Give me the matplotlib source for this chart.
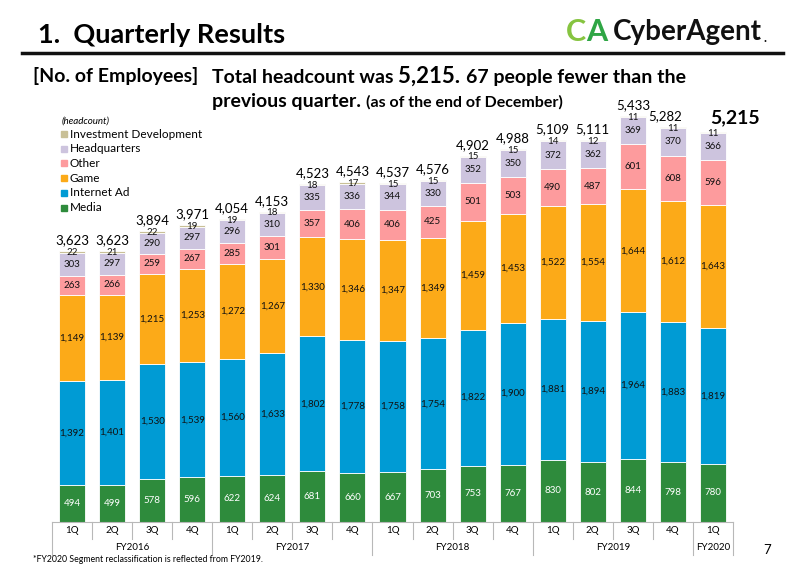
import numpy as np
import matplotlib
matplotlib.use("Agg")
import matplotlib.pyplot as plt
import matplotlib.transforms as mtransforms

plt.rcParams['font.family'] = ['Lato', 'DejaVu Sans']

quarters = ["1Q", "2Q", "3Q", "4Q"] * 4 + ["1Q"]
years = ["FY2016", "FY2017", "FY2018", "FY2019", "FY2020"]
year_spans = [(0, 3), (4, 7), (8, 11), (12, 15), (16, 16)]

media = [494, 499, 578, 596, 622, 624, 681, 660, 667, 703, 753, 767, 830, 802, 844, 798, 780]
internet_ad = [1392, 1401, 1530, 1539, 1560, 1633, 1802, 1778, 1758, 1754, 1822, 1900, 1881, 1894, 1964, 1883, 1819]
game = [1149, 1139, 1215, 1253, 1272, 1267, 1330, 1346, 1347, 1349, 1459, 1453, 1522, 1554, 1644, 1612, 1643]
other = [263, 266, 259, 267, 285, 301, 357, 406, 406, 425, 501, 503, 490, 487, 601, 608, 596]
headquarters = [303, 297, 290, 297, 296, 310, 335, 336, 344, 330, 352, 350, 372, 362, 369, 370, 366]
invest_dev = [22, 21, 22, 19, 19, 18, 18, 17, 15, 15, 15, 15, 14, 12, 11, 11, 11]

series = [
    ("Media", media, "#2e8b3c", "white"),
    ("Internet Ad", internet_ad, "#009bd4", "#111111"),
    ("Game", game, "#fcaa18", "#111111"),
    ("Other", other, "#fd9b9d", "#111111"),
    ("Headquarters", headquarters, "#cdc4de", "#111111"),
    ("Investment Development", invest_dev, "#c9c097", "#111111"),
]

W, H = 800, 565
fig = plt.figure(figsize=(8, 5.65), dpi=100)


def px(x, y):
    return x / W, 1 - y / H


# axes: baseline at y=522px, 6000 units -> 448px
ax = fig.add_axes([52 / W, (H - 522) / H, 681 / W, 448.4 / H])
ax.set_xlim(-0.5, 16.5)
ax.set_ylim(0, 6000)
ax.axis("off")

x = np.arange(len(media))
bottom = np.zeros(len(media))
for name, vals, color, tcolor in series:
    vals = np.array(vals)
    ax.bar(x, vals, 0.65, bottom=bottom, color=color, edgecolor="white", linewidth=0.6)
    if name != "Investment Development":
        for xi, b, v in zip(x, bottom, vals):
            ax.text(xi, b + v / 2, f"{v:,}", ha="center", va="center",
                    fontsize=7, color=tcolor)
    bottom += vals

totals = bottom
for xi, t, iv in zip(x, totals, invest_dev):
    ax.text(xi, t - 15, f"{iv}", ha="center", va="center", fontsize=7, color="#111111")
    if xi == len(x) - 1:
        ax.text(xi + 0.55, t + 195, f"{int(t):,}", ha="center", va="center",
                fontsize=14, fontweight="bold")
    elif xi == len(x) - 2:
        ax.text(xi - 0.2, t + 145, f"{int(t):,}", ha="center", va="center", fontsize=9.5)
    else:
        ax.text(xi, t + 145, f"{int(t):,}", ha="center", va="center", fontsize=9.5)

# category axis box
trans = mtransforms.blended_transform_factory(ax.transData, ax.transAxes)
lc = "#b8b8b8"
ax.plot([-0.5, 16.5], [0, 0], color=lc, lw=0.8, transform=trans, clip_on=False)
year_edges = {-0.5} | {e + 0.5 for _, e in year_spans}
for b in np.arange(-0.5, 17, 1.0):
    y_end = -0.074 if b in year_edges else -0.038
    ax.plot([b, b], [0, y_end], color=lc, lw=0.8, transform=trans, clip_on=False)
for xi, q in zip(x, quarters):
    ax.text(xi, -0.02, q, ha="center", va="center", fontsize=7, transform=trans)
for yr, (s, e) in zip(years, year_spans):
    ax.text((s + e) / 2, -0.056, yr, ha="center", va="center", fontsize=7, transform=trans)

# legend
fig.text(*px(62, 121), "(headcount)", fontsize=7, style="italic", va="center")
for i, (name, vals, color, _) in enumerate(reversed(series)):
    yy = 134 + i * 14.7
    fig.patches.append(plt.Rectangle(px(61, yy + 3), 6 / W, 6 / H, color=color,
                                     transform=fig.transFigure))
    fig.text(*px(70, yy), name, fontsize=8.5, va="center")

# header
fig.text(*px(38, 35), "1.  Quarterly Results", fontsize=19.5, fontweight="bold", va="center")
fig.add_artist(plt.Line2D([22 / W, 783 / W], [1 - 53 / H, 1 - 53 / H], color="#111111", lw=2.5))
fig.text(*px(566, 32), "C", fontsize=22, fontweight="bold", color="#86c440", va="center")
fig.text(*px(586, 32), "A", fontsize=22, fontweight="bold", color="#2fa645", va="center")
fig.text(*px(613, 32), "CyberAgent", fontsize=20, fontweight="bold", color="#111111", va="center")
fig.text(*px(763, 38), ".", fontsize=9, fontweight="bold", color="#111111", va="center")

fig.text(*px(33, 76), "[No. of Employees]", fontsize=14, fontweight="bold", va="center")

renderer = fig.canvas.get_renderer()


def chain(x0, y0, parts):
    xf, yf = px(x0, y0)
    for s, size in parts:
        t = fig.text(xf, yf, s, fontsize=size, fontweight="bold", va="baseline")
        bb = t.get_window_extent(renderer)
        xf = bb.x1 / (W * fig.dpi / 100)


chain(212, 83, [("Total headcount was ", 14), ("5,215. ", 16),
                ("67 people fewer than the", 14)])
chain(212, 107, [("previous quarter. ", 14), ("(as of the end of December)", 11.5)])

fig.text(*px(33, 559), "*FY2020 Segment reclassification is reflected from FY2019.",
         fontsize=6.3, va="center")
fig.text(*px(767, 550), "7", fontsize=9.5, va="center", ha="center")

fig.savefig("out.png", dpi=100)
